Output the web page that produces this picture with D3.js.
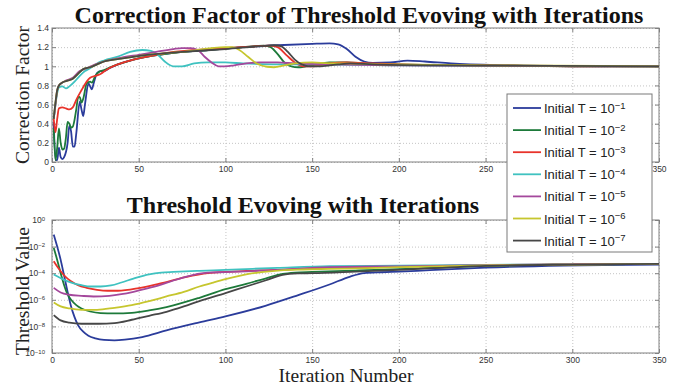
<!DOCTYPE html>
<html>
<head>
<meta charset="utf-8">
<script src="https://cdn.jsdelivr.net/npm/d3@7"></script>
<style>
  body { margin: 0; background: #fff; }
  .grid line { stroke: #c4c4c4; stroke-dasharray: 1,2; }
  .grid .domain { display: none; }
  .ax line, .ax path { stroke: #808080; }
  .ax text { font-family: "Liberation Sans Narrow", "Arial Narrow", sans-serif; font-size: 8.5px; fill: #333; }
  .title { font-family: "Liberation Serif", "Times New Roman", serif; font-weight: bold; font-size: 24px; fill: #111; }
  .label { font-family: "Liberation Serif", "Times New Roman", serif; font-size: 19.5px; fill: #222; }
  .leg { font-family: "Liberation Sans Narrow", "Arial Narrow", sans-serif; font-size: 13px; fill: #222; }
</style>
</head>
<body>
<svg id="chart" width="673" height="385"></svg>
<script>
// iteration ticks and y ticks
const iterTicks = [0, 50, 100, 150, 200, 250, 300, 350];
const cfTicks = [0, 0.2, 0.4, 0.6, 0.8, 1, 1.2, 1.4];
const thrTickExps = [0, -2, -4, -6, -8, -10];
const initExps = [-1, -2, -3, -4, -5, -6, -7];

// correction factor, [iteration, value]
const cf1 = [[1,0.42],[2,0.02],[3,0.02],[4,0.15],[5,0.05],[6,0.03],[7,0.05],[9,0.2],[10,0.38],[11,0.32],[12,0.16],[13,0.16],[14,0.3],[16,0.63],[17,0.55],[18,0.48],[19,0.6],[21,0.82],[22,0.79],[23,0.76],[24,0.82],[26,0.93],[28,0.95],[30,0.95],[33,0.98],[38,1.02],[45,1.06],[55,1.1],[70,1.14],[90,1.17],[110,1.2],[130,1.22],[150,1.235],[160,1.24],[165,1.23],[170,1.18],[175,1.1],[180,1.05],[185,1.035],[195,1.04],[205,1.06],[215,1.05],[230,1.03],[260,1.01],[300,1.0],[350,1.0]];
const cf2 = [[1,0.35],[2,0.02],[3,0.15],[4,0.35],[5,0.2],[6,0.13],[7,0.14],[8,0.25],[9,0.42],[10,0.4],[11,0.36],[12,0.37],[14,0.55],[15,0.67],[16,0.68],[17,0.62],[18,0.66],[20,0.82],[22,0.84],[23,0.83],[25,0.9],[27,0.94],[30,0.96],[35,1.0],[45,1.06],[55,1.1],[70,1.14],[90,1.17],[110,1.2],[122,1.215],[126,1.2],[130,1.13],[134,1.04],[138,1.0],[142,0.99],[150,1.01],[160,1.04],[170,1.04],[180,1.03],[200,1.02],[250,1.01],[300,1.0],[350,1.0]];
const cf3 = [[1,0.45],[2,0.31],[3,0.45],[4,0.56],[6,0.57],[8,0.56],[10,0.55],[12,0.57],[14,0.65],[17,0.75],[20,0.84],[22,0.88],[25,0.9],[28,0.92],[32,0.97],[38,1.02],[45,1.06],[55,1.1],[70,1.15],[90,1.18],[110,1.2],[125,1.215],[130,1.2],[135,1.12],[140,1.04],[145,1.0],[150,1.0],[160,1.03],[170,1.04],[185,1.03],[200,1.02],[250,1.01],[300,1.0],[350,1.0]];
const cf4 = [[1,0.45],[2,0.6],[3,0.72],[4,0.78],[6,0.79],[8,0.77],[10,0.79],[13,0.84],[16,0.9],[19,0.95],[22,0.98],[26,1.03],[30,1.06],[38,1.1],[45,1.15],[52,1.17],[57,1.16],[61,1.12],[65,1.05],[70,1.0],[75,1.0],[82,1.03],[90,1.04],[100,1.04],[110,1.03],[130,1.02],[150,1.02],[200,1.01],[250,1.005],[350,1.0]];
const cf5 = [[1,0.45],[2,0.6],[3,0.75],[4,0.8],[6,0.83],[8,0.85],[12,0.88],[16,0.95],[20,0.98],[25,1.02],[30,1.05],[40,1.09],[50,1.12],[60,1.15],[70,1.18],[75,1.19],[80,1.19],[84,1.17],[88,1.1],[92,1.04],[96,1.0],[100,1.0],[105,1.01],[112,1.03],[120,1.04],[130,1.04],[140,1.03],[160,1.02],[200,1.01],[350,1.0]];
const cf6 = [[1,0.45],[2,0.62],[3,0.75],[4,0.8],[6,0.83],[9,0.85],[12,0.87],[15,0.92],[18,0.97],[22,0.99],[26,1.02],[30,1.05],[40,1.08],[55,1.12],[75,1.15],[100,1.2],[104,1.2],[108,1.17],[113,1.1],[118,1.03],[124,0.995],[128,0.99],[134,1.01],[140,1.03],[150,1.04],[160,1.03],[170,1.03],[190,1.02],[250,1.01],[350,1.0]];
const cf7 = [[1,0.45],[2,0.62],[3,0.75],[4,0.8],[6,0.83],[9,0.85],[12,0.87],[15,0.92],[18,0.97],[22,0.99],[26,1.02],[30,1.05],[40,1.08],[55,1.12],[75,1.15],[100,1.18],[120,1.21],[128,1.22],[132,1.21],[136,1.15],[140,1.07],[144,1.02],[148,1.0],[155,1.0],[165,1.02],[172,1.03],[185,1.02],[220,1.01],[350,1.0]];

// threshold value, [iteration, log10 value]
const th1 = [[1,-1.1],[3,-2.0],[5,-3.0],[7,-4.2],[9,-5.4],[11,-6.5],[13,-7.3],[15,-7.9],[18,-8.4],[21,-8.7],[25,-8.9],[30,-9.02],[36,-9.05],[42,-9.0],[52,-8.8],[66,-8.3],[85,-7.7],[100,-7.25],[123,-6.45],[142,-5.65],[160,-4.85],[172,-4.25],[180,-4.0],[190,-3.93],[200,-3.88],[218,-3.77],[250,-3.58],[295,-3.42],[350,-3.35]];
const th2 = [[1,-2.1],[3,-3.0],[5,-4.0],[7,-4.9],[9,-5.6],[11,-6.0],[14,-6.4],[17,-6.65],[22,-6.88],[28,-7.0],[36,-7.02],[46,-6.98],[56,-6.8],[66,-6.55],[85,-5.85],[100,-5.2],[112,-4.8],[123,-4.4],[133,-4.05],[140,-3.95],[150,-3.9],[175,-3.8],[200,-3.7],[250,-3.45],[300,-3.35],[350,-3.3]];
const th3 = [[1,-3.1],[3,-3.5],[5,-3.85],[8,-4.3],[11,-4.6],[15,-4.9],[20,-5.1],[26,-5.25],[32,-5.32],[38,-5.32],[50,-5.12],[62,-4.78],[77,-4.3],[90,-4.0],[100,-3.9],[130,-3.75],[160,-3.6],[200,-3.5],[250,-3.4],[300,-3.33],[350,-3.3]];
const th4 = [[1,-4.1],[4,-4.3],[7,-4.5],[12,-4.75],[17,-4.9],[22,-5.0],[28,-5.0],[34,-4.92],[40,-4.7],[47,-4.4],[56,-4.08],[63,-3.95],[70,-3.9],[85,-3.82],[100,-3.75],[130,-3.6],[160,-3.47],[200,-3.43],[250,-3.38],[300,-3.33],[350,-3.3]];
const th5 = [[1,-5.1],[5,-5.45],[10,-5.62],[17,-5.7],[24,-5.75],[33,-5.7],[40,-5.58],[47,-5.4],[55,-5.15],[62,-4.9],[70,-4.55],[77,-4.28],[84,-4.05],[90,-3.95],[100,-3.92],[130,-3.75],[160,-3.55],[200,-3.48],[250,-3.4],[300,-3.33],[350,-3.3]];
const th6 = [[1,-6.2],[5,-6.5],[10,-6.65],[17,-6.75],[26,-6.75],[36,-6.6],[46,-6.4],[56,-6.1],[66,-5.75],[76,-5.4],[85,-5.0],[93,-4.7],[100,-4.45],[108,-4.2],[115,-4.02],[122,-3.9],[132,-3.78],[145,-3.72],[170,-3.65],[200,-3.55],[250,-3.42],[300,-3.35],[350,-3.3]];
const th7 = [[1,-7.15],[5,-7.55],[10,-7.72],[17,-7.8],[27,-7.8],[36,-7.75],[46,-7.5],[56,-7.2],[66,-6.9],[76,-6.5],[85,-6.1],[100,-5.5],[112,-5.0],[123,-4.55],[133,-4.12],[142,-4.02],[150,-4.0],[175,-3.88],[200,-3.75],[250,-3.45],[300,-3.35],[350,-3.3]];

const cfSeries = [cf1, cf2, cf3, cf4, cf5, cf6, cf7];
const thSeries = [th1, th2, th3, th4, th5, th6, th7];
const colors = ["#2b3c9b", "#1d7a3a", "#e8332b", "#3fc2c0", "#a4489c", "#c6c62e", "#474747"];

const svg = d3.select("#chart");
const left = 52, right = 659;

const x = d3.scaleLinear().domain([0, 350]).range([left, right]);
const yCf = d3.scaleLinear().domain([0, 1.4]).range([162, 28]);
const yTh = d3.scaleLog().domain([1e-10, 1]).range([353, 220]);

function panel(y, top, bottom, yTickVals) {
  const h = bottom - top;
  const g = svg.append("g");

  // dotted grid
  g.append("g").attr("class", "grid")
    .attr("transform", "translate(0," + bottom + ")")
    .call(d3.axisBottom(x).tickValues(iterTicks).tickSize(-h).tickFormat(""));
  g.append("g").attr("class", "grid")
    .attr("transform", "translate(" + left + ",0)")
    .call(d3.axisLeft(y).tickValues(yTickVals).tickSize(-(right - left)).tickFormat(""));

  // inner ticks on all four sides
  const xb = g.append("g").attr("class", "ax")
    .attr("transform", "translate(0," + bottom + ")")
    .call(d3.axisBottom(x).tickValues(iterTicks).tickSizeInner(-4).tickSizeOuter(0).tickPadding(4));
  g.append("g").attr("class", "ax")
    .attr("transform", "translate(0," + top + ")")
    .call(d3.axisTop(x).tickValues(iterTicks).tickSizeInner(-4).tickSizeOuter(0).tickFormat(""));
  const yl = g.append("g").attr("class", "ax")
    .attr("transform", "translate(" + left + ",0)")
    .call(d3.axisLeft(y).tickValues(yTickVals).tickSizeInner(-4).tickSizeOuter(0).tickPadding(3));
  g.append("g").attr("class", "ax")
    .attr("transform", "translate(" + right + ",0)")
    .call(d3.axisRight(y).tickValues(yTickVals).tickSizeInner(-4).tickSizeOuter(0).tickFormat(""));
  g.selectAll(".ax .domain").remove();

  g.append("rect")
    .attr("x", left).attr("y", top)
    .attr("width", right - left).attr("height", h)
    .attr("fill", "none").attr("stroke", "#808080").attr("stroke-width", 1);
  return { g, xb, yl };
}

// top panel
const p1 = panel(yCf, 28, 162, cfTicks);
p1.yl.selectAll("text").text(d => d3.format("~g")(d));
// the 300 label sits behind the legend box
p1.xb.selectAll("text").filter(d => d === 300).remove();

const lineCf = d3.line().x(d => x(d[0])).y(d => yCf(d[1])).curve(d3.curveMonotoneX);
p1.g.append("g").selectAll("path").data(cfSeries).join("path")
  .attr("d", lineCf).attr("fill", "none")
  .attr("stroke", (d, i) => colors[i]).attr("stroke-width", 1.8);

// bottom panel
const p2 = panel(yTh, 220, 353, thrTickExps.map(e => Math.pow(10, e)));
p2.yl.selectAll("text").each(function(d) {
  const t = d3.select(this).text("").attr("dx", "-4px");
  t.append("tspan").text("10");
  t.append("tspan").attr("dy", "-0.45em").attr("font-size", "6px")
    .text(String(Math.round(Math.log10(d))).replace("-", "−"));
});

const lineTh = d3.line().x(d => x(d[0])).y(d => yTh(Math.pow(10, d[1]))).curve(d3.curveMonotoneX);
p2.g.append("g").selectAll("path").data(thSeries).join("path")
  .attr("d", lineTh).attr("fill", "none")
  .attr("stroke", (d, i) => colors[i]).attr("stroke-width", 1.8);

// titles and labels
svg.append("text").attr("class", "title").attr("x", 359).attr("y", 23)
  .attr("text-anchor", "middle").text("Correction Factor of Threshold Evoving with Iterations");
svg.append("text").attr("class", "title").attr("x", 303).attr("y", 213)
  .attr("text-anchor", "middle").text("Threshold Evoving with Iterations");
svg.append("text").attr("class", "label").attr("transform", "translate(29,95) rotate(-90)")
  .attr("text-anchor", "middle").text("Correction Factor");
svg.append("text").attr("class", "label").attr("transform", "translate(29,291) rotate(-90)")
  .attr("text-anchor", "middle").text("Threshold Value");
svg.append("text").attr("class", "label").attr("x", 346).attr("y", 382)
  .attr("text-anchor", "middle").text("Iteration Number");

// legend
const leg = svg.append("g").attr("transform", "translate(507,94)");
leg.append("rect").attr("width", 145).attr("height", 158)
  .attr("fill", "#fff").attr("stroke", "#7a7a7a");
const rows = leg.selectAll("g").data(initExps).join("g")
  .attr("transform", (d, i) => "translate(0," + (14 + i * 22.1) + ")");
rows.append("line").attr("x1", 6).attr("x2", 34)
  .attr("stroke", (d, i) => colors[i]).attr("stroke-width", 1.8);
const lt = rows.append("text").attr("class", "leg").attr("x", 37).attr("y", 5);
lt.append("tspan").text("Initial T = 10");
lt.append("tspan").attr("dy", "-0.45em").attr("font-size", "9.5px")
  .text(d => String(d).replace("-", "−"));
</script>
</body>
</html>
